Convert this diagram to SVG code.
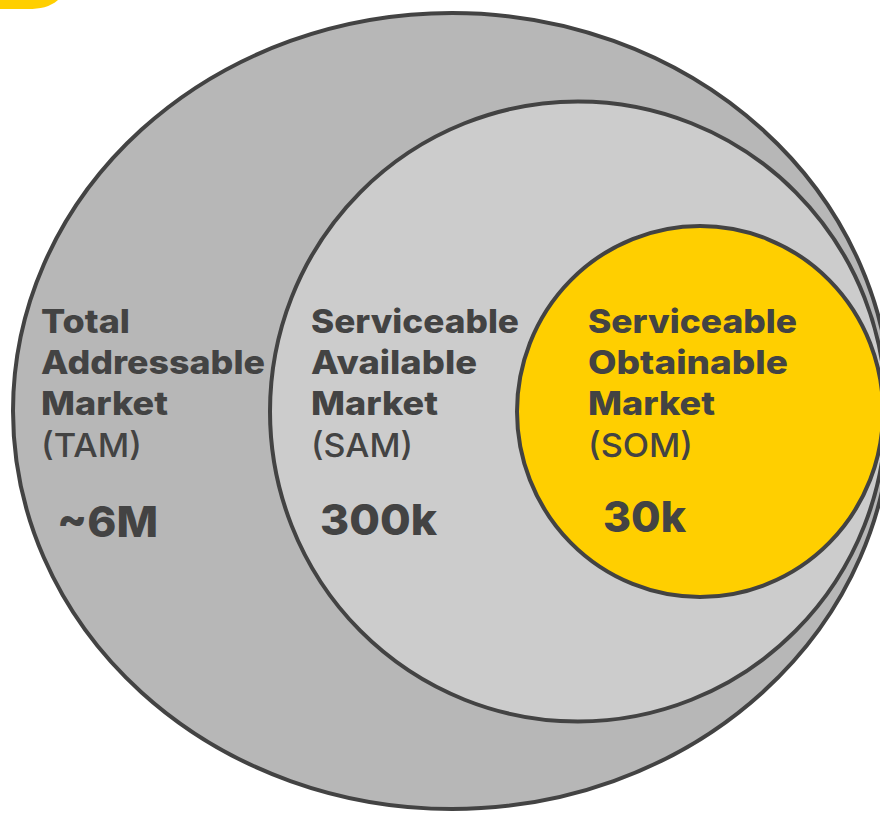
<svg xmlns="http://www.w3.org/2000/svg" width="880" height="813" viewBox="0 0 880 813">
<style>
.ring{stroke:#434343;stroke-width:4}
.t{font-family:Inter,"Open Sans","Liberation Sans",sans-serif;fill:#434343}
.b{font-weight:800;font-size:33px}
.r{font-weight:500;font-size:33px}
.v{font-weight:800;font-size:43px}
</style>
<rect width="880" height="813" fill="#ffffff"/>
<path id="corner" d="M0 0 H58 C50 7 40 9 28 9 H0 Z" fill="#ffcf00"/>
<g id="tam">
<ellipse class="ring" cx="452" cy="411" rx="439" ry="398" fill="#b7b7b7"/>
<text class="t b" x="41" y="333" textLength="89" lengthAdjust="spacingAndGlyphs">Total</text>
<text class="t b" x="41" y="374" textLength="224" lengthAdjust="spacingAndGlyphs">Addressable</text>
<text class="t b" x="41" y="415" textLength="127" lengthAdjust="spacingAndGlyphs">Market</text>
<text class="t r" x="41" y="457" textLength="101" lengthAdjust="spacingAndGlyphs">(TAM)</text>
<text class="t v" x="57" y="537" textLength="101" lengthAdjust="spacingAndGlyphs">~6M</text>
</g>
<g id="sam">
<ellipse class="ring" cx="578" cy="411.5" rx="308" ry="310" fill="#cccccc"/>
<text class="t b" x="311" y="333" textLength="208" lengthAdjust="spacingAndGlyphs">Serviceable</text>
<text class="t b" x="311" y="374" textLength="166" lengthAdjust="spacingAndGlyphs">Available</text>
<text class="t b" x="311" y="415" textLength="127" lengthAdjust="spacingAndGlyphs">Market</text>
<text class="t r" x="311" y="457" textLength="102" lengthAdjust="spacingAndGlyphs">(SAM)</text>
<text class="t v" x="320" y="535" textLength="117" lengthAdjust="spacingAndGlyphs">300k</text>
</g>
<g id="som">
<ellipse class="ring" cx="700" cy="411.5" rx="183" ry="185.5" fill="#ffcf00"/>
<text class="t b" x="588" y="333" textLength="209" lengthAdjust="spacingAndGlyphs">Serviceable</text>
<text class="t b" x="588" y="374" textLength="200" lengthAdjust="spacingAndGlyphs">Obtainable</text>
<text class="t b" x="588" y="415" textLength="127" lengthAdjust="spacingAndGlyphs">Market</text>
<text class="t r" x="588" y="457" textLength="105" lengthAdjust="spacingAndGlyphs">(SOM)</text>
<text class="t v" x="603" y="532" textLength="83" lengthAdjust="spacingAndGlyphs">30k</text>
</g>
<g id="connectors"/>
</svg>
